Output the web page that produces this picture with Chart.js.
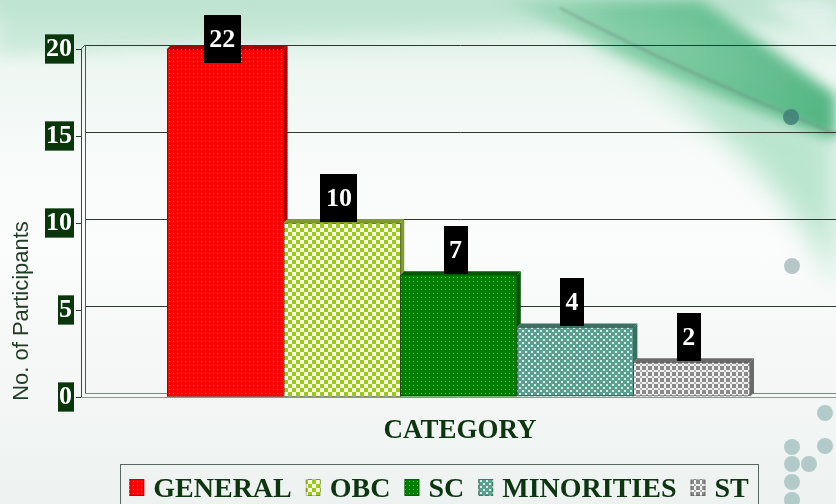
<!DOCTYPE html>
<html><head><meta charset="utf-8">
<script src="https://cdn.jsdelivr.net/npm/chart.js"></script>
<style>
html,body{margin:0;padding:0;width:836px;height:504px;overflow:hidden;}
body{position:relative;background:linear-gradient(180deg,#c4e5d4 0px,#d9efe4 25px,#eef7f2 70px,#f8fbfa 160px,#fbfcfc 250px,#f4f7f6 380px,#edf2f1 504px);}
#bg{position:absolute;left:0;top:0;}
#c{position:absolute;left:0;top:0;}
</style></head>
<body>
<svg id="bg" width="836" height="504" xmlns="http://www.w3.org/2000/svg">
<defs>
<filter id="b1" x="-20%" y="-20%" width="140%" height="140%"><feGaussianBlur stdDeviation="7"/></filter>
<filter id="b3" x="-30%" y="-30%" width="160%" height="160%"><feGaussianBlur stdDeviation="14"/></filter>
<filter id="b2"><feGaussianBlur stdDeviation="1.5"/></filter>
<linearGradient id="g1" x1="0" y1="0" x2="1" y2="0">
<stop offset="0" stop-color="#5bbf8a" stop-opacity="0.15"/>
<stop offset="0.35" stop-color="#4fb982" stop-opacity="0.6"/>
<stop offset="1" stop-color="#34a86c" stop-opacity="0.85"/>
</linearGradient>
</defs>
<path d="M0,0 L836,0 L836,25 C600,25 300,40 0,55 Z" fill="#a6dbbf" opacity="0.35" filter="url(#b1)"/>
<path d="M580,30 C700,110 790,180 836,290 L836,135 C760,105 680,70 580,30 Z" fill="#86d3a9" opacity="0.55" filter="url(#b3)"/>
<path d="M500,0 L700,0 C760,40 800,70 836,95 L836,140 C760,112 650,72 500,0 Z" fill="url(#g1)" filter="url(#b1)"/>
<path d="M560,8 C650,55 740,95 836,134" stroke="#6c7f78" stroke-width="2" fill="none" opacity="0.5" filter="url(#b2)"/>
<path d="M760,0 L836,0 L836,60 C815,40 790,20 760,0 Z" fill="#e4f3ee" opacity="0.8" filter="url(#b1)"/>
<circle cx="791" cy="117" r="8" fill="#3f7f78" opacity="0.85"/>
<circle cx="792" cy="266" r="8" fill="#b7c7c7"/>
<circle cx="825" cy="413" r="8" fill="#b3cacb"/>
<circle cx="792" cy="447" r="8" fill="#b3cacb"/>
<circle cx="825" cy="446" r="8" fill="#b3cacb"/>
<circle cx="792" cy="464" r="8" fill="#b3cacb"/>
<circle cx="809" cy="464" r="8" fill="#b3cacb"/>
<circle cx="792" cy="482" r="8" fill="#b3cacb"/>
<circle cx="792" cy="500" r="8" fill="#b3cacb"/>
</svg>
<canvas id="c" width="836" height="504"></canvas>
<script>
// ---- data ----
const categories = ['GENERAL', 'OBC', 'SC', 'MINORITIES', 'ST'];
const participants = [22, 10, 7, 4, 2];
const yTicks = [0, 5, 10, 15, 20];
const yAxisTitle = 'No. of Participants';
const xAxisTitle = 'CATEGORY';

// ---- styles ----
const canvas = document.getElementById('c');
const ctx0 = canvas.getContext('2d');
function pattern(w, h, draw) {
  const t = document.createElement('canvas');
  t.width = w; t.height = h;
  draw(t.getContext('2d'));
  return ctx0.createPattern(t, 'repeat');
}
const fills = [
  pattern(4, 4, g => { g.fillStyle = '#ff0000'; g.fillRect(0,0,4,4); g.fillStyle = '#ff9c9c'; g.fillRect(1,1,1,1); }),
  pattern(8, 8, g => { g.fillStyle = '#f6fbe8'; g.fillRect(0,0,8,8); g.fillStyle = '#9ccb14'; g.fillRect(0,0,4,4); g.fillRect(4,4,4,4); }),
  pattern(4, 4, g => { g.fillStyle = '#007f00'; g.fillRect(0,0,4,4); g.fillStyle = '#5fb35f'; g.fillRect(1,1,1,1); }),
  pattern(6, 6, g => { g.fillStyle = '#5a9f8f'; g.fillRect(0,0,6,6); g.fillStyle = '#d9eee8'; g.fillRect(0,0,2,2); g.fillRect(3,3,2,2); }),
  pattern(6, 6, g => { g.fillStyle = '#f2f2f2'; g.fillRect(0,0,6,6); g.fillStyle = '#8a8a8a'; g.fillRect(0,0,4,4); g.fillStyle = '#b0b0b0'; g.fillRect(4,4,2,2); })
];
const topShade = ['#a80000', '#7f9c2a', '#005800', '#3b6f63', '#6a6a6a'];
const DEPTH = 4;

const datasets = categories.map((c, i) => ({
  label: c,
  data: [participants[i]],
  backgroundColor: fills[i],
  borderWidth: 0
}));

const wallPlugin = {
  id: 'wall',
  beforeDatasetsDraw(chart) {
    const { ctx, chartArea: a, scales: { y } } = chart;
    ctx.save();
    ctx.lineWidth = 1;
    yTicks.forEach(v => {
      const py = Math.round(y.getPixelForValue(v) - DEPTH) + 0.5;
      ctx.strokeStyle = v === 0 ? '#7d8a82' : '#2a3a2e';
      ctx.beginPath(); ctx.moveTo(a.left + DEPTH, py); ctx.lineTo(chart.width, py); ctx.stroke();
    });
    ctx.strokeStyle = '#4a5a50';
    ctx.beginPath();
    ctx.moveTo(a.left + DEPTH + 0.5, a.top - DEPTH); ctx.lineTo(a.left + DEPTH + 0.5, a.bottom - DEPTH);
    ctx.moveTo(a.left, a.top); ctx.lineTo(a.left + DEPTH, a.top - DEPTH);
    ctx.stroke();
    ctx.strokeStyle = '#8a968f';
    ctx.beginPath(); ctx.moveTo(a.left, a.bottom + 0.5); ctx.lineTo(chart.width, a.bottom + 0.5); ctx.stroke();
    ctx.restore();
  }
};

const facePlugin = {
  id: 'faces',
  afterDatasetsDraw(chart) {
    const { ctx, chartArea: a } = chart;
    const bars = chart.data.datasets.map((d, i) => chart.getDatasetMeta(i).data[0]);
    ctx.save();
    bars.forEach((b, i) => {
      const x1 = b.x + b.width / 2;
      const yt = Math.max(b.y, a.top);
      const next = bars[i + 1];
      const yb = next ? Math.max(next.y, a.top) : b.base;
      if (yb <= yt) return;
      ctx.fillStyle = topShade[i];
      ctx.beginPath();
      ctx.moveTo(x1, yt); ctx.lineTo(x1 + DEPTH, yt - DEPTH);
      ctx.lineTo(x1 + DEPTH, yb - DEPTH); ctx.lineTo(x1, yb); ctx.closePath(); ctx.fill();
    });
    bars.forEach((b, i) => {
      const x0 = b.x - b.width / 2, x1 = b.x + b.width / 2;
      const yt = Math.max(b.y, a.top);
      ctx.fillStyle = topShade[i];
      ctx.beginPath();
      ctx.moveTo(x0, yt); ctx.lineTo(x1, yt); ctx.lineTo(x1 + DEPTH, yt - DEPTH); ctx.lineTo(x0 + DEPTH, yt - DEPTH);
      ctx.closePath(); ctx.fill();
      ctx.strokeStyle = 'rgba(0,0,0,0.35)';
      ctx.lineWidth = 1;
      ctx.strokeRect(Math.round(x0) + 0.5, Math.round(yt) + 0.5, Math.round(b.width) - 1, Math.round(b.base - yt) - 1);
    });
    ctx.font = 'bold 26px "Liberation Serif"';
    ctx.textAlign = 'center';
    ctx.textBaseline = 'middle';
    bars.forEach((b, i) => {
      const txt = String(participants[i]);
      const tw = ctx.measureText(txt).width;
      const w = tw + 11, h = 48;
      const clipped = b.y < a.top;
      const bottom = clipped ? a.top + 14 : b.y - 1;
      const cx = b.x - 3;
      ctx.fillStyle = '#000000';
      ctx.fillRect(Math.round(cx - w / 2), Math.round(bottom - h), Math.round(w), h);
      ctx.fillStyle = '#ffffff';
      ctx.fillText(txt, cx, bottom - h / 2 + 1);
    });
    ctx.restore();
  }
};

const textPlugin = {
  id: 'texts',
  afterDraw(chart) {
    const { ctx } = chart;
    ctx.save();
    ctx.fillStyle = '#1f3d22';
    ctx.font = '22px "Liberation Sans"';
    ctx.textAlign = 'center';
    ctx.textBaseline = 'middle';
    ctx.translate(22, 311);
    ctx.rotate(-Math.PI / 2);
    ctx.fillText(yAxisTitle, 0, 0);
    ctx.restore();
    ctx.save();
    ctx.fillStyle = '#0c3510';
    ctx.font = 'bold 27px "Liberation Serif"';
    ctx.textAlign = 'center';
    ctx.textBaseline = 'alphabetic';
    ctx.fillText(xAxisTitle, 460, 438);
    const items = chart.data.datasets;
    const sw = 15, gapBox = 9, gapItem = 14;
    ctx.font = 'bold 28px "Liberation Serif"';
    const widths = items.map(d => ctx.measureText(d.label).width);
    const total = widths.reduce((s, w) => s + sw + gapBox + w, 0) + gapItem * (items.length - 1);
    const boxL = 120, boxR = 758;
    let x = (boxL + boxR) / 2 - total / 2;
    ctx.strokeStyle = '#5a6660';
    ctx.lineWidth = 1;
    ctx.strokeRect(boxL + 0.5, 464.5, boxR - boxL, 60);
    ctx.textAlign = 'left';
    items.forEach((d, i) => {
      ctx.fillStyle = d.backgroundColor;
      ctx.fillRect(x, 479, sw, 17);
      ctx.strokeStyle = 'rgba(0,0,0,0.25)';
      ctx.strokeRect(x + 0.5, 479.5, sw - 1, 16);
      x += sw + gapBox;
      ctx.fillStyle = '#0c3510';
      ctx.fillText(d.label, x, 497);
      x += widths[i] + gapItem;
    });
    ctx.restore();
  }
};

new Chart(canvas, {
  type: 'bar',
  data: { labels: [''], datasets },
  options: {
    responsive: false,
    animation: false,
    layout: { padding: { left: 0, right: 0, top: 49, bottom: 107 } },
    datasets: { bar: { categoryPercentage: 583 / 755, barPercentage: 1.0 } },
    plugins: { legend: { display: false }, tooltip: { enabled: false } },
    scales: {
      x: { display: false },
      y: {
        min: 0, max: 20,
        afterFit(s) { s.width = 81; },
        afterBuildTicks(s) { s.ticks = yTicks.map(v => ({ value: v })); },
        grid: { drawOnChartArea: false, drawTicks: true, tickLength: 5, color: '#2a3a2e' },
        border: { display: true, color: '#3a4a40' },
        ticks: {
          padding: 4,
          color: '#ffffff',
          font: { family: '"Liberation Serif"', size: 26, weight: 'bold', lineHeight: 1.05 },
          showLabelBackdrop: true,
          backdropColor: '#0a360c',
          backdropPadding: { top: 1, bottom: 1, left: 1, right: 2 }
        }
      }
    }
  },
  plugins: [wallPlugin, facePlugin, textPlugin]
});
</script>
</body></html>
